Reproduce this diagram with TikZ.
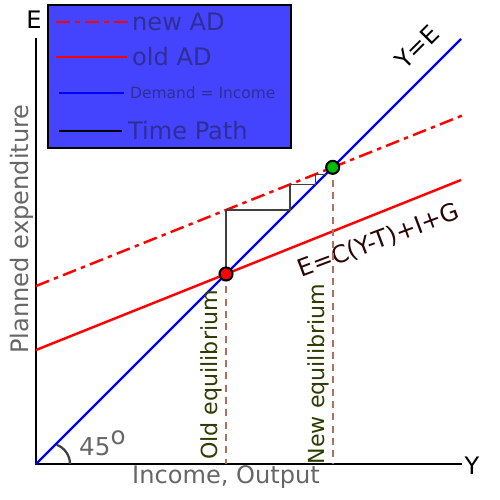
\documentclass[tikz,border=0pt]{standalone}
\usepackage{fontspec}
\setmainfont{DejaVu Sans}
\usepackage{xcolor}
\usepackage{tikz}
\usetikzlibrary{positioning,calc}

\definecolor{legendblue}{RGB}{68,68,255}
\definecolor{legendtext}{RGB}{46,46,150}
\definecolor{eqbrown}{RGB}{176,112,96}
\definecolor{eqgreen}{RGB}{45,60,0}
\definecolor{adbrown}{RGB}{43,5,5}
\definecolor{axisgray}{RGB}{102,102,102}

\begin{document}
\begin{tikzpicture}[
    axis/.style={line width=1.6pt, black},
    adline/.style={line width=1.4pt, red},
    incline/.style={line width=1.4pt, blue},
    eqdash/.style={line width=1.3pt, eqbrown, dash pattern=on 4pt off 3pt},
    eqdot/.style={circle, draw=black, line width=1.2pt, inner sep=0pt, minimum size=0.26cm},
    bigtxt/.style={font=\fontsize{13.7}{15}\selectfont}
]
    \useasboundingbox (-0.72,-0.72) rectangle (9.28,9.28);

    % Axes
    \coordinate (O) at (0,0);
    \coordinate (Xend) at (8.52,0);
    \coordinate (Yend) at (0,8.52);
    \draw [axis] (Xend) -- (O) -- (Yend);
    \node [bigtxt] (ylab) at (8.72,-0.04) {Y};
    \node [bigtxt] (elab) at (-0.04,8.88) {E};
    \node [bigtxt, axisgray] (xtitle) at (3.8,-0.27) {Income, Output};
    \node [bigtxt, axisgray, rotate=90] (ytitle) at (-0.28,4.7) {Planned expenditure};

    % 45 degree line
    \coordinate (Bend) at (8.5,8.5);
    \draw [incline] (O) -- (Bend);
    \node [bigtxt, rotate=45] (yelab) at (7.62,8.34) {Y=E};
    \draw [line width=1.3pt, black!75] (0.68,0) arc (0:69:0.41);
    \node [font=\fontsize{14}{16}\selectfont, axisgray, anchor=base west] (angle) at (0.74,0.16) {45\raisebox{0.22cm}{o}};

    % Aggregate demand
    \coordinate (oldA) at (0,2.28);
    \coordinate (oldB) at (8.5,5.68);
    \coordinate (newA) at (0,3.56);
    \coordinate (newB) at (8.52,6.968);
    \draw [adline] (oldA) -- (oldB);
    \draw [adline, dash pattern=on 8pt off 3pt on 2.5pt off 3pt] (newA) -- (newB);
    \node [bigtxt, adbrown, rotate=20.5] (adlab) at (6.86,4.46) {E=C(Y-T)+I+G};

    % Equilibria
    \coordinate (eq1) at (3.8,3.8);
    \coordinate (eq2) at (5.933,5.933);
    \coordinate (f1) at (3.8,0);
    \coordinate (f2) at (5.933,0);
    \draw [eqdash] (eq1) -- (f1);
    \draw [eqdash] (eq2) -- (f2);
    \node [font=\fontsize{12.6}{14}\selectfont, eqgreen, rotate=90] (oldeq) at (3.5,1.78) {Old equilibrium};
    \node [font=\fontsize{12.6}{14}\selectfont, eqgreen, rotate=90] (neweq) at (5.64,1.8) {New equilibrium};

    % Time path
    \coordinate (tp1) at (3.8,5.08);
    \coordinate (tp2) at (5.08,5.08);
    \coordinate (tp3) at (5.08,5.592);
    \coordinate (tp4) at (5.592,5.592);
    \coordinate (tp5) at (5.592,5.797);
    \coordinate (tp6) at (5.797,5.797);
    \draw [black!75, line width=0.7pt] (eq1) -- (tp1) -- (tp2) -- (tp3) -- (tp4) -- (tp5) -- (tp6);

    \node [eqdot, fill=red] (olddot) at (eq1) {};
    \node [eqdot, fill=green!75!black] (newdot) at (eq2) {};

    % Legend
    \draw [line width=1.6pt, fill=legendblue] (0.24,6.32) rectangle (5.1,9.18);
    \coordinate (l1a) at (0.4,8.84);   \coordinate (l1b) at (1.84,8.84);
    \coordinate (l2a) at (0.4,8.14);   \coordinate (l2b) at (1.82,8.14);
    \coordinate (l3a) at (0.46,7.42);  \coordinate (l3b) at (1.76,7.42);
    \coordinate (l4a) at (0.46,6.66);  \coordinate (l4b) at (1.72,6.66);
    \draw [adline, dash pattern=on 8pt off 3pt on 2.5pt off 3pt] (l1a) -- (l1b);
    \draw [adline] (l2a) -- (l2b);
    \draw [incline] (l3a) -- (l3b);
    \draw [black, line width=0.6pt] (l4a) -- (l4b);
    \node [bigtxt, legendtext, anchor=west] (t1) at (1.8,8.84) {new AD};
    \node [bigtxt, legendtext, anchor=west] (t2) at (1.8,8.14) {old AD};
    \node [font=\fontsize{8.8}{10}\selectfont, legendtext, anchor=west] (t3) at (1.76,7.42) {Demand = Income};
    \node [bigtxt, legendtext, anchor=west] (t4) at (1.72,6.66) {Time Path};
\end{tikzpicture}
\end{document}
